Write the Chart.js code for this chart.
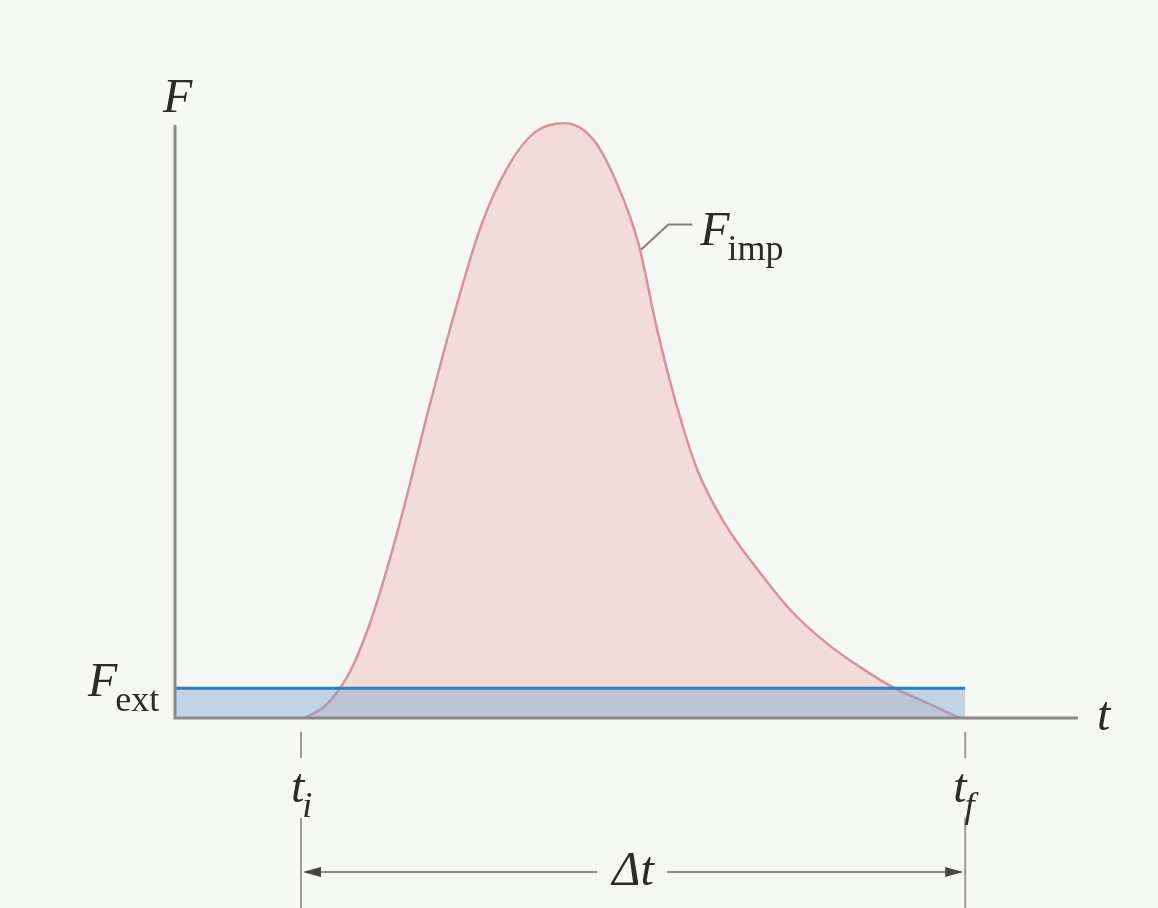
<!DOCTYPE html>
<html>
<head>
<meta charset="utf-8">
<title>Impulsive force</title>
<script src="https://cdn.jsdelivr.net/npm/chart.js@4/dist/chart.umd.min.js"></script>
<style>
  html, body { margin: 0; padding: 0; background: #f6f9f3; }
  canvas { display: block; }
</style>
</head>
<body>
<canvas id="impulseChart" width="1158" height="908"></canvas>
<script>
// time axis runs 0..100, force axis 0..100
const tValues = [14.5, 17, 19.5, 22, 25, 28, 31, 34, 37, 40, 43.3, 46.5, 49, 51.5, 53.5, 55.5,
    58, 61, 64.5, 68.5, 72.5, 76.5, 80, 83.5, 87.2];
const fImpValues = [0, 2.5, 8, 17.5, 33, 51, 68, 83, 93, 98.8, 100.3, 97.5, 90.5, 80, 66, 54,
    42, 33, 25.5, 18, 12.5, 8.2, 5, 2.6, 0];
const fExt = 5;
const tInitial = 14;
const tFinal = 87.8;
const leaderPoint = [51.7, 79];

const serif = '"Liberation Serif", "DejaVu Serif", serif';

// main letter in italic, subscript smaller and lower
function drawSub(ctx, main, sub, x, y, subItalic) {
    ctx.font = 'italic 48px ' + serif;
    ctx.fillText(main, x, y);
    const w = ctx.measureText(main).width;
    ctx.font = (subItalic ? 'italic ' : '') + '36px ' + serif;
    ctx.fillText(sub, x + w - 2, y + 15);
}

function arrowHead(ctx, x, y, dir) {
    ctx.beginPath();
    ctx.moveTo(x, y);
    ctx.lineTo(x - dir * 18, y - 5);
    ctx.lineTo(x - dir * 18, y + 5);
    ctx.closePath();
    ctx.fill();
}

const annotations = {
    id: 'annotations',
    afterDatasetsDraw(chart) {
        const { ctx, chartArea } = chart;
        const xs = chart.scales.x, ys = chart.scales.y;
        const x0 = xs.getPixelForValue(0);
        const y0 = ys.getPixelForValue(0);
        const xi = xs.getPixelForValue(tInitial);
        const xf = xs.getPixelForValue(tFinal);

        ctx.save();
        // axes
        ctx.strokeStyle = '#8a8a8a';
        ctx.lineWidth = 3;
        ctx.beginPath();
        ctx.moveTo(x0, chartArea.top);
        ctx.lineTo(x0, y0);
        ctx.lineTo(chartArea.right + 3, y0);
        ctx.stroke();

        // ti / tf markers
        ctx.strokeStyle = '#9a9a9a';
        ctx.lineWidth = 2;
        [xi, xf].forEach(x => {
            ctx.beginPath();
            ctx.moveTo(x, y0 + 14);
            ctx.lineTo(x, y0 + 40);
            ctx.moveTo(x, y0 + 100);
            ctx.lineTo(x, chart.height);
            ctx.stroke();
        });

        // leader for F_imp
        const lx = xs.getPixelForValue(leaderPoint[0]);
        const ly = ys.getPixelForValue(leaderPoint[1]);
        ctx.strokeStyle = '#7d7d7d';
        ctx.beginPath();
        ctx.moveTo(lx + 1, ly);
        ctx.lineTo(lx + 28, ly - 25);
        ctx.lineTo(lx + 52, ly - 25);
        ctx.stroke();

        // delta t arrow
        const ay = y0 + 154;
        const mid = (xi + xf) / 2;
        ctx.strokeStyle = '#8a8a8a';
        ctx.fillStyle = '#444';
        ctx.lineWidth = 2;
        ctx.beginPath();
        ctx.moveTo(xi + 4, ay);
        ctx.lineTo(mid - 36, ay);
        ctx.moveTo(mid + 34, ay);
        ctx.lineTo(xf - 4, ay);
        ctx.stroke();
        arrowHead(ctx, xi + 2, ay, -1);
        arrowHead(ctx, xf - 2, ay, 1);

        // labels
        ctx.fillStyle = '#2b2b2b';
        ctx.textBaseline = 'alphabetic';
        ctx.font = 'italic 48px ' + serif;
        ctx.fillText('F', x0 - 12, chartArea.top - 13);
        ctx.fillText('t', chartArea.right + 22, y0 + 12);
        ctx.textAlign = 'center';
        ctx.fillText('\u0394t', mid, ay + 13);
        ctx.textAlign = 'left';

        drawSub(ctx, 'F', 'ext', x0 - 87, ys.getPixelForValue(fExt) + 8, false);
        drawSub(ctx, 'F', 'imp', lx + 60, ly - 5, false);
        drawSub(ctx, 't', 'i', xi - 10, y0 + 84, true);
        drawSub(ctx, 't', 'f', xf - 12, y0 + 84, true);
        ctx.restore();
    }
};

new Chart(document.getElementById('impulseChart'), {
    type: 'line',
    data: {
        datasets: [
            {
                label: 'F ext',
                data: [{ x: 0, y: fExt }, { x: tFinal, y: fExt }],
                borderColor: '#2f7dbb',
                borderWidth: 3,
                backgroundColor: 'rgba(120, 160, 215, 0.42)',
                fill: 'origin',
                pointRadius: 0,
                order: 0
            },
            {
                label: 'F imp',
                data: tValues.map((t, i) => ({ x: t, y: fImpValues[i] })),
                borderColor: '#d6939c',
                borderWidth: 2.5,
                backgroundColor: 'rgba(232, 150, 155, 0.3)',
                fill: 'origin',
                pointRadius: 0,
                cubicInterpolationMode: 'monotone',
                clip: false,
                order: 1
            }
        ]
    },
    options: {
        responsive: false,
        animation: false,
        layout: { padding: { left: 175, top: 125, right: 83, bottom: 190 } },
        scales: {
            x: { type: 'linear', min: 0, max: 100, display: false },
            y: { min: 0, max: 100, display: false }
        },
        plugins: {
            legend: { display: false },
            tooltip: { enabled: false }
        }
    },
    plugins: [annotations]
});
</script>
</body>
</html>
